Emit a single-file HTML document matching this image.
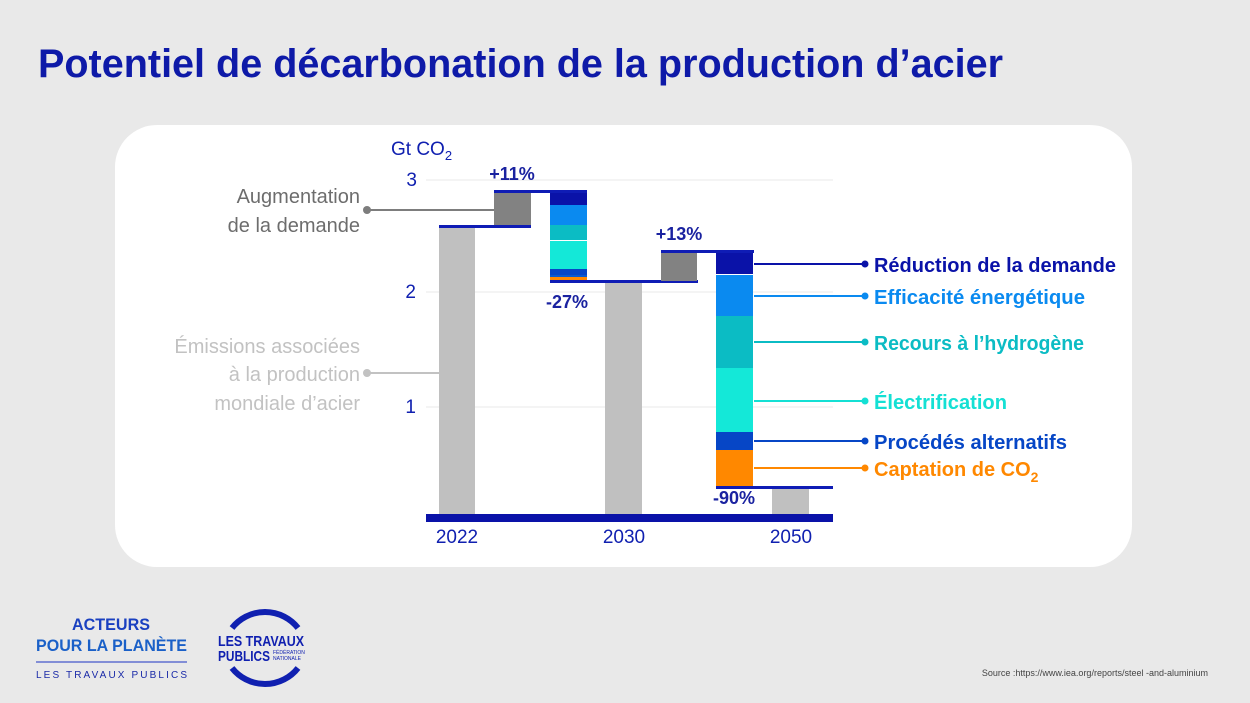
<!DOCTYPE html>
<html><head><meta charset="utf-8"><style>
html,body{margin:0;padding:0;background:#e9e9e9;}
body{width:1250px;height:698px;overflow:hidden;font-family:"Liberation Sans",sans-serif;}
</style></head><body>
<svg width="1250" height="698" xmlns="http://www.w3.org/2000/svg" font-family="Liberation Sans, sans-serif">
<rect width="1250" height="698" fill="#e9e9e9"/>
<text x="38" y="77" font-size="40" font-weight="bold" fill="#0e1aa8" textLength="965" lengthAdjust="spacingAndGlyphs">Potentiel de décarbonation de la production d’acier</text>
<rect x="115" y="125" width="1017" height="442" rx="42" fill="#fff"/>
<g stroke="#f0f0f0" stroke-width="1.5">
<line x1="426" y1="180" x2="833" y2="180"/><line x1="426" y1="292" x2="833" y2="292"/><line x1="426" y1="407" x2="833" y2="407"/>
</g>
<g fill="#1020b0" font-size="19">
<text x="391" y="155">Gt CO<tspan font-size="13" dy="5">2</tspan></text>
<text x="417" y="186" text-anchor="end">3</text>
<text x="416" y="298" text-anchor="end">2</text>
<text x="416" y="413" text-anchor="end">1</text>
<text x="457" y="543" text-anchor="middle">2022</text>
<text x="624" y="543" text-anchor="middle">2030</text>
<text x="791" y="543" text-anchor="middle">2050</text>
</g>
<rect x="439" y="227" width="36" height="290" fill="#c0c0c0"/>
<rect x="494" y="192" width="37" height="35" fill="#828282"/>
<rect x="439" y="225" width="92" height="3" fill="#0f1cb5"/>
<rect x="494" y="190" width="93" height="3" fill="#0f1cb5"/>
<rect x="550" y="193" width="37" height="12" fill="#0a12a8"/>
<rect x="550" y="205" width="37" height="20" fill="#0a8af0"/>
<rect x="550" y="225" width="37" height="15" fill="#0bbcc4"/>
<rect x="550" y="241" width="37" height="28" fill="#14e8d8"/>
<rect x="550" y="269" width="37" height="6" fill="#0646c6"/>
<rect x="550" y="275" width="37" height="2" fill="#0a5ad0"/>
<rect x="550" y="277" width="37" height="3" fill="#ff8800"/>
<rect x="550" y="280" width="148" height="3" fill="#0f1cb5"/>
<rect x="605" y="283" width="37" height="234" fill="#c0c0c0"/>
<rect x="661" y="252" width="36" height="29" fill="#828282"/>
<rect x="661" y="250" width="93" height="3" fill="#0f1cb5"/>
<rect x="716" y="253" width="37" height="21" fill="#0a12a8"/>
<rect x="716" y="275" width="37" height="41" fill="#0a8af0"/>
<rect x="716" y="316" width="37" height="52" fill="#0bbcc4"/>
<rect x="716" y="368" width="37" height="64" fill="#14e8d8"/>
<rect x="716" y="432" width="37" height="18" fill="#0646c6"/>
<rect x="716" y="450" width="37" height="36" fill="#ff8800"/>
<rect x="772" y="489" width="37" height="28" fill="#c0c0c0"/>
<rect x="716" y="486" width="117" height="3" fill="#0f1cb5"/>
<rect x="426" y="514" width="407" height="8" fill="#0a12a8"/>
<g fill="#1a22a0" font-size="18" font-weight="bold">
<text x="512" y="180" text-anchor="middle">+11%</text>
<text x="567" y="308" text-anchor="middle">-27%</text>
<text x="679" y="240" text-anchor="middle">+13%</text>
<text x="734" y="504" text-anchor="middle">-90%</text>
</g>
<g font-size="20" text-anchor="end">
<text x="360" y="203" fill="#6d6d6d">Augmentation</text>
<text x="360" y="232" fill="#6d6d6d">de la demande</text>
<text x="360" y="353" fill="#c2c2c2">Émissions associées</text>
<text x="360" y="381" fill="#c2c2c2">à la production</text>
<text x="360" y="410" fill="#c2c2c2">mondiale d’acier</text>
</g>
<line x1="367" y1="210" x2="494" y2="210" stroke="#7d7d7d" stroke-width="2"/><circle cx="367" cy="210" r="4" fill="#7d7d7d"/>
<line x1="367" y1="373" x2="439" y2="373" stroke="#c2c2c2" stroke-width="2"/><circle cx="367" cy="373" r="4" fill="#c2c2c2"/>
<g stroke-width="2">
<line x1="754" y1="264" x2="865" y2="264" stroke="#0a12a8"/><circle cx="865" cy="264" r="3.5" fill="#0a12a8"/>
<line x1="754" y1="296" x2="865" y2="296" stroke="#0a8af0"/><circle cx="865" cy="296" r="3.5" fill="#0a8af0"/>
<line x1="754" y1="342" x2="865" y2="342" stroke="#0bbcc4"/><circle cx="865" cy="342" r="3.5" fill="#0bbcc4"/>
<line x1="754" y1="401" x2="865" y2="401" stroke="#14e0d4"/><circle cx="865" cy="401" r="3.5" fill="#14e0d4"/>
<line x1="754" y1="441" x2="865" y2="441" stroke="#0646c6"/><circle cx="865" cy="441" r="3.5" fill="#0646c6"/>
<line x1="754" y1="468" x2="865" y2="468" stroke="#ff8800"/><circle cx="865" cy="468" r="3.5" fill="#ff8800"/>
</g>
<g font-size="20" font-weight="bold">
<text x="874" y="272" fill="#0a12a8" textLength="242" lengthAdjust="spacingAndGlyphs">Réduction de la demande</text>
<text x="874" y="304" fill="#0a8af0" textLength="211" lengthAdjust="spacingAndGlyphs">Efficacité énergétique</text>
<text x="874" y="350" fill="#0bbcc4" textLength="210" lengthAdjust="spacingAndGlyphs">Recours à l’hydrogène</text>
<text x="874" y="409" fill="#14e0d4" textLength="133" lengthAdjust="spacingAndGlyphs">Électrification</text>
<text x="874" y="449" fill="#0646c6" textLength="193" lengthAdjust="spacingAndGlyphs">Procédés alternatifs</text>
<text x="874" y="476" fill="#ff8800">Captation de CO<tspan font-size="14" dy="6">2</tspan></text>
</g>
<g font-weight="bold" font-size="17">
<text x="72" y="630" fill="#1a40c0" textLength="78" lengthAdjust="spacingAndGlyphs">ACTEURS</text>
<text x="36" y="651" fill="#1a60c8" textLength="151" lengthAdjust="spacingAndGlyphs">POUR LA PLANÈTE</text>
</g>
<line x1="36" y1="662" x2="187" y2="662" stroke="#6070d0" stroke-width="1.5"/>
<text x="36" y="678" font-size="10" fill="#1a2aa8" textLength="151" lengthAdjust="spacing">LES TRAVAUX PUBLICS</text>
<path d="M232 628 A42 42 0 0 1 298 628" stroke="#1020b0" stroke-width="6" fill="none"/>
<path d="M232 668 A42 42 0 0 0 298 668" stroke="#1020b0" stroke-width="6" fill="none"/>
<text x="218" y="646" font-size="15" font-weight="bold" fill="#1020b0" textLength="86" lengthAdjust="spacingAndGlyphs">LES TRAVAUX</text>
<text x="218" y="661" font-size="15" font-weight="bold" fill="#1020b0" textLength="52" lengthAdjust="spacingAndGlyphs">PUBLICS</text>
<text x="273" y="654" font-size="5" fill="#1020b0">FÉDÉRATION</text>
<text x="273" y="660" font-size="5" fill="#1020b0">NATIONALE</text>
<text x="1208" y="676" font-size="9" fill="#444" text-anchor="end">Source :https://www.iea.org/reports/steel  -and-aluminium</text>
</svg>
</body></html>
